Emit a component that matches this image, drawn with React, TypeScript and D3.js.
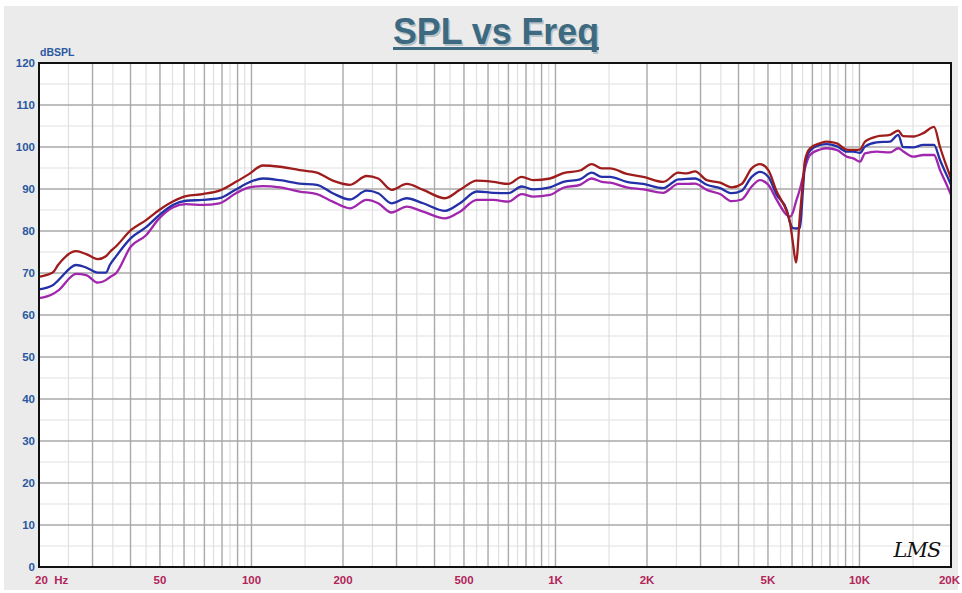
import React from 'react';
import * as d3 from 'd3';

// Frequency points (Hz)
const freqs = [20, 22.2, 23.1, 26.5, 28.6, 31.2, 33.2, 34.2, 35.8, 40.1, 45, 49.7, 55.1, 60.9, 69.1, 78.4, 88.9, 98.4, 108.9, 124, 144, 164, 185, 211, 239, 261, 289, 324, 367, 433, 485, 551, 624, 700, 774, 845, 959, 1061, 1204, 1316, 1419, 1511, 1715, 1944, 2262, 2536, 2702, 2878, 3144, 3478, 3799, 4098, 4420, 4706, 5012, 5342, 5764, 5908, 6044, 6182, 6372, 6520, 6620, 6876, 7416, 7800, 8414, 9078, 9542, 10040, 10426, 11392, 12600, 13416, 13904, 15032, 16218, 17586, 18400, 19358, 20000];

const redSpl = [69.1, 70.1, 71.9, 75.2, 74.5, 73.3, 74, 75, 76.3, 80.2, 82.6, 85, 87, 88.3, 88.8, 89.6, 91.7, 93.6, 95.6, 95.3, 94.5, 93.9, 92, 91, 93.1, 92.5, 89.8, 91.2, 89.8, 87.8, 89.8, 92, 91.7, 91.2, 92.9, 92.1, 92.5, 93.8, 94.4, 95.9, 94.9, 94.9, 93.6, 92.9, 91.7, 93.9, 93.7, 94.2, 92.1, 91.5, 90.4, 91.2, 94.9, 95.9, 94.5, 89.4, 84.6, 82, 77, 72.5, 84, 92, 96.9, 99.7, 100.9, 101.3, 100.9, 99.4, 99.3, 99.4, 101.3, 102.5, 102.9, 103.9, 102.6, 102.5, 103.3, 104.8, 100, 95.3, 92.5];

const blueSpl = [66.1, 67.1, 68.2, 71.9, 71.3, 70.1, 70.1, 71.9, 73.9, 78.3, 80.9, 83.8, 86.2, 87.2, 87.4, 87.8, 89.9, 91.6, 92.5, 92.1, 91.3, 91, 89, 87.5, 89.6, 89, 86.6, 87.8, 86.6, 84.8, 86.6, 89.4, 89.1, 89, 90.6, 89.9, 90.4, 91.7, 92.3, 93.9, 92.9, 92.9, 91.7, 91.2, 90.2, 92.3, 92.4, 92.5, 91, 90.2, 89, 89.6, 92.9, 94.1, 92.9, 88.6, 85, 82, 80.7, 80.6, 80.8, 90, 96, 99.1, 100.5, 100.7, 100.2, 98.9, 98.9, 98.6, 100.1, 101.1, 101.3, 102.9, 100, 99.9, 100.5, 100.5, 96.9, 93.3, 91];

const purpleSpl = [64, 65, 65.8, 69.8, 69.5, 67.7, 68.3, 69, 69.9, 76.3, 79, 83, 85.6, 86.4, 86.2, 86.6, 89, 90.4, 90.7, 90.4, 89.4, 88.8, 87, 85.4, 87.4, 86.6, 84.4, 85.8, 84.6, 83, 84.6, 87.4, 87.4, 87, 88.8, 88.2, 88.6, 90.3, 91, 92.5, 91.7, 91.5, 90.4, 89.9, 89.1, 91.2, 91.2, 91.3, 89.8, 88.8, 87.1, 87.5, 90.6, 92.1, 91, 87.4, 83.8, 83.4, 84.5, 87, 90, 93, 95, 98.1, 99.4, 99.7, 99.3, 97.7, 97.3, 96.5, 98.5, 98.9, 98.7, 99.7, 99, 97.7, 98.1, 98.1, 94.5, 91, 88.6];

const yTicks = [0, 10, 20, 30, 40, 50, 60, 70, 80, 90, 100, 110, 120];
const xTickValues = [20, 50, 100, 200, 500, 1000, 2000, 5000, 10000, 20000];
const xTickLabels = ['20  Hz', '50', '100', '200', '500', '1K', '2K', '5K', '10K', '20K'];

const W = 962;
const H = 593;
const margin = { top: 63, right: 11, bottom: 26, left: 39 };

export default function App() {
  const x = d3.scaleLog().domain([20, 20000]).range([margin.left, W - margin.right]);
  const y = d3.scaleLinear().domain([0, 120]).range([H - margin.bottom, margin.top]);

  // grid lines: decade steps dark, half steps light
  const major: number[] = [];
  const minor: number[] = [];
  [10, 100, 1000, 10000].forEach(dec => {
    for (let k = 1; k <= 9; k++) {
      const f = k * dec;
      if (f > 20 && f < 20000) major.push(f);
      const h = (k + 0.5) * dec;
      if (h > 20 && h < 20000) minor.push(h);
    }
  });
  const minorY = d3.range(5, 120, 10);

  const line = d3.line<number>()
    .x((_, i) => x(freqs[i]))
    .y(d => y(d))
    .curve(d3.curveMonotoneX);

  const series = [
    { name: 'purple', values: purpleSpl, color: '#a026ad' },
    { name: 'blue', values: blueSpl, color: '#2430a8' },
    { name: 'red', values: redSpl, color: '#9e1c1c' },
  ];

  const x0 = x.range()[0];
  const x1 = x.range()[1];
  const y0 = y.range()[0];
  const y1 = y.range()[1];

  return (
    <svg width={W} height={H} style={{ position: 'absolute', left: 0, top: 0 }}
      fontFamily="'Liberation Sans', Arial, sans-serif">
      <rect x={0} y={0} width={W} height={H} fill="#ffffff" />
      <rect x={4} y={6} width={954} height={584} fill="#ebebeb" />

      {/* title */}
      <text x={496} y={44} textAnchor="middle" fontSize={36} fontWeight="bold"
        fill="#b8c3c8" textLength={206} lengthAdjust="spacingAndGlyphs" transform="translate(1.5,1.5)">SPL vs Freq</text>
      <text x={496} y={44} textAnchor="middle" fontSize={36} fontWeight="bold"
        fill="#3d6a80" textLength={206} lengthAdjust="spacingAndGlyphs">SPL vs Freq</text>
      <rect x={393} y={47} width={206} height={3} fill="#3d6a80" />

      {/* plot area */}
      <rect x={x0} y={y1} width={x1 - x0} height={y0 - y1} fill="#ffffff" />

      {minorY.map(v => (
        <line key={'my' + v} x1={x0} x2={x1} y1={y(v)} y2={y(v)} stroke="#e2e2e2" strokeWidth={1.2} />
      ))}
      {minor.map(f => (
        <line key={'mx' + f} x1={x(f)} x2={x(f)} y1={y1} y2={y0} stroke="#e0e0e0" strokeWidth={1.2} />
      ))}
      {yTicks.slice(1, -1).map(v => (
        <line key={'gy' + v} x1={x0} x2={x1} y1={y(v)} y2={y(v)} stroke="#a9a9a9" strokeWidth={1.4} />
      ))}
      {major.map(f => (
        <line key={'gx' + f} x1={x(f)} x2={x(f)} y1={y1} y2={y0} stroke="#a9a9a9" strokeWidth={1.4} />
      ))}

      {series.map(s => (
        <path key={s.name} d={line(s.values) || ''} fill="none" stroke={s.color}
          strokeWidth={2.3} strokeLinejoin="round" />
      ))}

      <rect x={x0} y={y1} width={x1 - x0} height={y0 - y1} fill="none" stroke="#111" strokeWidth={2} />

      {/* y axis */}
      {yTicks.map(v => (
        <text key={'yt' + v} x={35} y={y(v) + 4} textAnchor="end" fontSize={11.5}
          fontWeight="bold" fill="#2a58a0">{v}</text>
      ))}
      <text x={40} y={56} fontSize={10.5} fontWeight="bold" fill="#2a58a0">dBSPL</text>

      {/* x axis */}
      {xTickValues.map((f, i) => {
        const first = i === 0;
        const last = i === xTickValues.length - 1;
        return (
          <text key={'xt' + f} x={first ? 35 : last ? 960 : x(f)} y={584}
            textAnchor={first ? 'start' : last ? 'end' : 'middle'} fontSize={11.5}
            fontWeight="bold" fill="#b2245a" style={{ whiteSpace: 'pre' }}>{xTickLabels[i]}</text>
        );
      })}

      {/* LMS mark */}
      <text x={917} y={557} textAnchor="middle" fontSize={21} fontStyle="italic"
        fontFamily="'DejaVu Serif', serif" fill="#111" letterSpacing={-1}>LMS</text>
    </svg>
  );
}
